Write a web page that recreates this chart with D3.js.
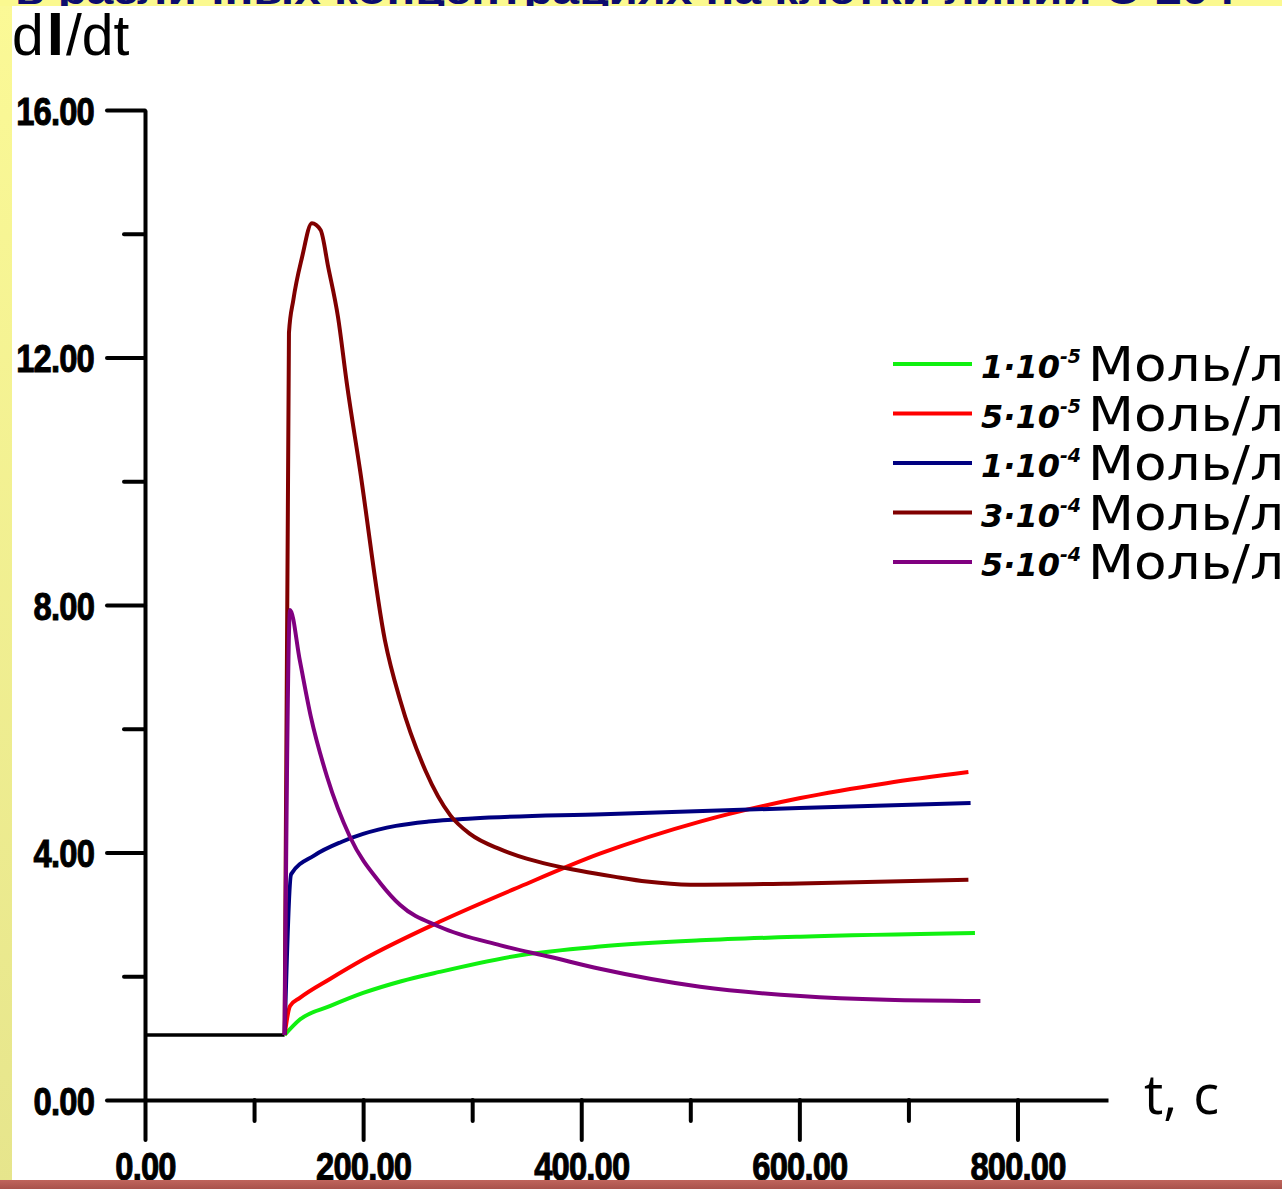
<!DOCTYPE html>
<html><head><meta charset="utf-8">
<script src="https://cdn.jsdelivr.net/npm/d3@7"></script>
<style>
html,body{margin:0;padding:0;background:#fff;overflow:hidden}
</style></head>
<body>
<svg id="chart" width="1282" height="1189"></svg>
<script>
// ---------- data ----------
const xMajorTicks = [0, 200, 400, 600, 800];
const xMinorTicks = [100, 300, 500, 700];
const yMajorTicks = [0, 4, 8, 12, 16];
const yMinorTicks = [2, 6, 10, 14];

const baseline = [[0, 1.05], [128, 1.05]];
const s1e5 = [[128,1.05],[142,1.3],[170,1.52],[200,1.73],[235,1.92],[270,2.07],[344,2.34],[417,2.48],[509,2.58],[601,2.64],[761,2.7]];
const s5e5 = [[128,1.05],[133,1.52],[142,1.65],[170,1.96],[200,2.27],[270,2.88],[344,3.45],[417,3.98],[509,4.5],[601,4.88],[680,5.12],[755,5.3]];
const s1e4 = [[128,1.05],[134,3.65],[155,3.95],[180,4.17],[200,4.3],[230,4.43],[260,4.5],[300,4.55],[420,4.62],[600,4.72],[757,4.8]];
const s3e4 = [[128,1.05],[132,12.4],[136,12.93],[144,13.62],[153,14.17],[161,14.06],[168,13.46],[177,12.65],[185,11.59],[197,10.2],[220,7.43],[234,6.46],[257,5.33],[280,4.6],[298,4.3],[326,4.05],[350,3.9],[372,3.8],[400,3.7],[430,3.61],[460,3.53],[500,3.48],[600,3.5],[755,3.56]];
const s5e4 = [[128,1.05],[133,7.92],[142,7.1],[152,6.2],[167,5.22],[188,4.25],[216,3.5],[234,3.15],[270,2.8],[326,2.5],[372,2.31],[417,2.12],[509,1.83],[601,1.68],[680,1.62],[766,1.6]];

const seriesData = [s1e5, s5e5, s1e4, s3e4, s5e4];
const seriesColors = ["#10f010", "#ff0000", "#000080", "#800000", "#800080"];
const legendMant = ["1·10", "5·10", "1·10", "3·10", "5·10"];
const legendExp = ["-5", "-5", "-4", "-4", "-4"];
const legendUnit = "Моль/л";
const titleText = "в различных концентрациях на клетки линии С-204";
const yTitle = ["d", "I", "/dt"];
const xTitle = ["t,", "с"];

// ---------- layout ----------
const svg = d3.select("#chart");
const W = 1282, H = 1189;
const x = d3.scaleLinear().domain([0, 883]).range([145, 1108]);
const y = d3.scaleLinear().domain([0, 16]).range([1100, 110]);

const defs = svg.append("defs");
const gl = defs.append("linearGradient").attr("id","lg").attr("x1",0).attr("y1",0).attr("x2",0).attr("y2",1);
gl.append("stop").attr("offset","0%").attr("stop-color","#fbf996");
gl.append("stop").attr("offset","100%").attr("stop-color","#e6e58c");
const gb = defs.append("linearGradient").attr("id","bg2").attr("x1",0).attr("y1",0).attr("x2",0).attr("y2",1);
gb.append("stop").attr("offset","0%").attr("stop-color","#c0655c");
gb.append("stop").attr("offset","100%").attr("stop-color","#a9524b");
defs.append("clipPath").attr("id","topclip").append("rect").attr("x",0).attr("y",0).attr("width",W).attr("height",6);

// background strips
svg.append("rect").attr("x",0).attr("y",0).attr("width",12).attr("height",H).attr("fill","url(#lg)");
svg.append("rect").attr("x",0).attr("y",0).attr("width",W).attr("height",6).attr("fill","#fbf990");
svg.append("text").attr("clip-path","url(#topclip)")
  .attr("x",15).attr("y",4)
  .attr("font-family","Liberation Sans, Arial, sans-serif").attr("font-weight","bold")
  .attr("font-size",40).attr("fill","#0c0c6e").attr("textLength",1220).attr("lengthAdjust","spacingAndGlyphs")
  .text(titleText);

const tickFont = "'Liberation Sans', Arial, sans-serif";

// axes
function styleAxis(g){
  g.selectAll("path.domain").attr("stroke","#000").attr("stroke-width",4);
  g.selectAll(".tick line").attr("stroke","#000").attr("stroke-width",4).attr("stroke-linecap","round");
  g.selectAll(".tick text").attr("fill","#000").attr("font-family",tickFont)
    .attr("font-weight","bold").attr("font-size",39).attr("stroke","#000").attr("stroke-width",1)
    .attr("letter-spacing",-1)
    .each(function(){
      const w = this.getComputedTextLength();
      d3.select(this).attr("textLength", w*0.84).attr("lengthAdjust","spacingAndGlyphs");
    });
}
const fmt = d3.format(".2f");

const gxMinor = svg.append("g").attr("transform",`translate(0,${y(0)})`)
  .call(d3.axisBottom(x).tickValues(xMinorTicks).tickSize(21).tickSizeOuter(0).tickFormat(""));
styleAxis(gxMinor); gxMinor.select("path.domain").remove();
const gyMinor = svg.append("g").attr("transform",`translate(${x(0)},0)`)
  .call(d3.axisLeft(y).tickValues(yMinorTicks).tickSize(21).tickSizeOuter(0).tickFormat(""));
styleAxis(gyMinor); gyMinor.select("path.domain").remove();

const gx = svg.append("g").attr("transform",`translate(0,${y(0)})`)
  .call(d3.axisBottom(x).tickValues(xMajorTicks).tickSize(40).tickSizeOuter(0).tickPadding(12).tickFormat(fmt));
styleAxis(gx);
const gy = svg.append("g").attr("transform",`translate(${x(0)},0)`)
  .call(d3.axisLeft(y).tickValues(yMajorTicks).tickSize(38).tickSizeOuter(0).tickPadding(13).tickFormat(fmt));
styleAxis(gy);
gy.selectAll(".tick text").attr("dy","0.36em");

// axis titles
const yt = svg.append("text").attr("x",12).attr("y",55)
  .attr("font-family","'Liberation Sans', Arial, sans-serif").attr("font-size",57).attr("fill","#000");
yt.append("tspan").text(yTitle[0]);
yt.append("tspan").attr("font-size",62).attr("dx",3).attr("dy",0).attr("font-weight","bold").text(yTitle[1]);
yt.append("tspan").attr("dx",2).text(yTitle[2]);

const xt = svg.append("text").attr("x",1144).attr("y",1114)
  .attr("font-family","'Open Sans', 'DejaVu Sans', sans-serif").attr("font-size",54).attr("fill","#000");
xt.append("tspan").text(xTitle[0]);
xt.append("tspan").attr("dx",16).text(xTitle[1]);

// lines
const line = d3.line().x(d => x(d[0])).y(d => y(d[1])).curve(d3.curveMonotoneX);
svg.append("path").datum(baseline).attr("d", line).attr("fill","none")
  .attr("stroke","#000").attr("stroke-width",3.5);
seriesData.forEach((s, i) => {
  svg.append("path").datum(s).attr("d", line).attr("fill","none")
    .attr("stroke", seriesColors[i]).attr("stroke-width", 4).attr("stroke-linejoin","round");
});

// legend
const lg = svg.append("g");
const legY = d3.scaleLinear().domain([0, 4]).range([364, 562]);
legendMant.forEach((m, i) => {
  const yy = legY(i);
  lg.append("line").attr("x1",893).attr("x2",972).attr("y1",yy).attr("y2",yy)
    .attr("stroke",seriesColors[i]).attr("stroke-width",4);
  const t = lg.append("text").attr("x",981).attr("y",yy+14).attr("fill","#000");
  t.append("tspan").attr("font-family","'DejaVu Sans', sans-serif").attr("font-weight","bold")
    .attr("font-style","italic").attr("font-size",32).text(m);
  t.append("tspan").attr("font-family","'DejaVu Sans', sans-serif").attr("font-weight","bold")
    .attr("font-style","italic").attr("font-size",19).attr("dx",0).attr("dy",-15).text(legendExp[i]);
  lg.append("text").attr("x",1088).attr("y",yy+17).attr("fill","#000")
    .attr("font-family","'DejaVu Sans', sans-serif")
    .attr("font-size",48).attr("textLength",196).attr("lengthAdjust","spacingAndGlyphs").text(legendUnit);
});

// bottom bar (over labels)
svg.append("rect").attr("x",0).attr("y",1180).attr("width",W).attr("height",9).attr("fill","url(#bg2)");
</script>
</body></html>
